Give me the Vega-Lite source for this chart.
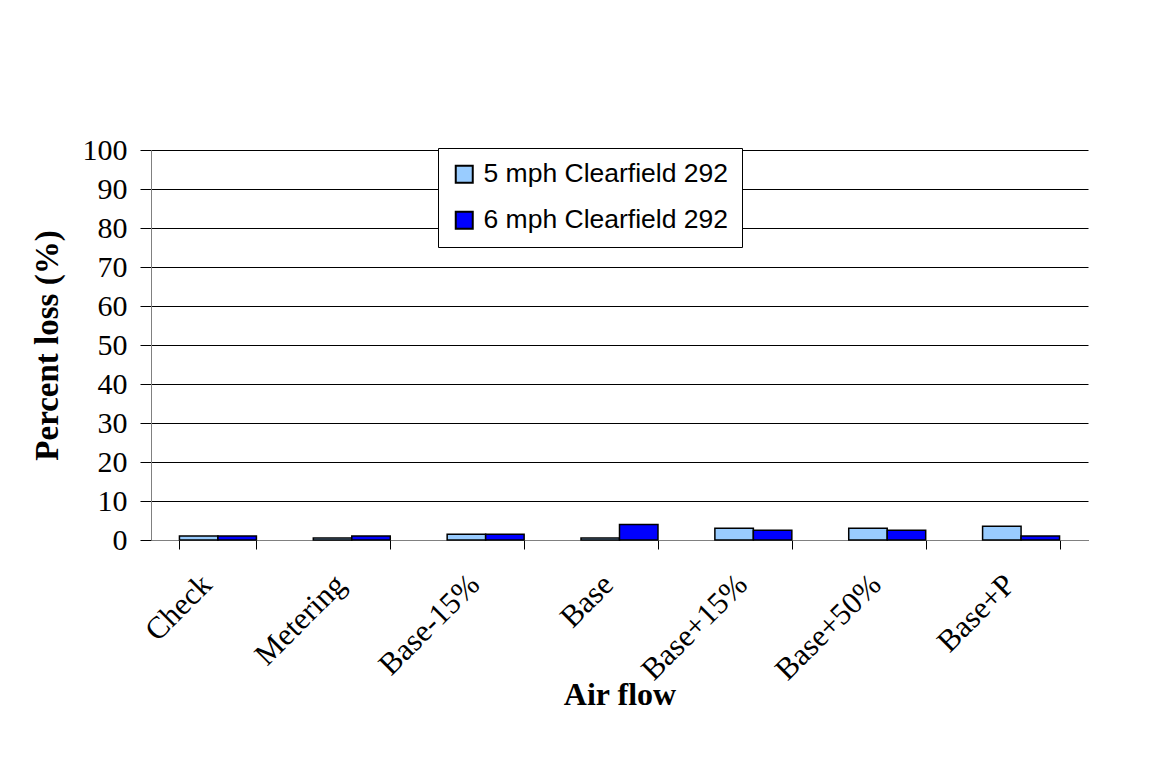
{
  "$schema": "https://vega.github.io/schema/vega-lite/v6.json",
  "width": 937,
  "height": 390,
  "padding": {"left": 31, "top": 135, "right": 5, "bottom": 5},
  "autosize": {"type": "pad"},
  "background": "white",
  "config": {"view": {"stroke": null}},
  "data": {
    "values": [
      {"flow": "Check", "series": "5 mph Clearfield 292", "loss": 1.0},
      {"flow": "Check", "series": "6 mph Clearfield 292", "loss": 1.0},
      {"flow": "Metering", "series": "5 mph Clearfield 292", "loss": 0.5},
      {"flow": "Metering", "series": "6 mph Clearfield 292", "loss": 1.0},
      {"flow": "Base-15%", "series": "5 mph Clearfield 292", "loss": 1.5},
      {"flow": "Base-15%", "series": "6 mph Clearfield 292", "loss": 1.5},
      {"flow": "Base", "series": "5 mph Clearfield 292", "loss": 0.5},
      {"flow": "Base", "series": "6 mph Clearfield 292", "loss": 4.0},
      {"flow": "Base+15%", "series": "5 mph Clearfield 292", "loss": 3.0},
      {"flow": "Base+15%", "series": "6 mph Clearfield 292", "loss": 2.5},
      {"flow": "Base+50%", "series": "5 mph Clearfield 292", "loss": 3.0},
      {"flow": "Base+50%", "series": "6 mph Clearfield 292", "loss": 2.5},
      {"flow": "Base+P", "series": "5 mph Clearfield 292", "loss": 3.5},
      {"flow": "Base+P", "series": "6 mph Clearfield 292", "loss": 1.0}
    ]
  },
  "mark": {"type": "bar", "stroke": "black", "strokeWidth": 1.5},
  "encoding": {
    "x": {
      "field": "flow",
      "type": "nominal",
      "sort": ["Check", "Metering", "Base-15%", "Base", "Base+15%", "Base+50%", "Base+P"],
      "scale": {"paddingInner": 0.425, "paddingOuter": 0.2125},
      "axis": {
        "title": "Air flow",
        "titleFont": "Liberation Serif",
        "titleFontSize": 32,
        "titleFontWeight": "bold",
        "titleColor": "black",
        "titlePadding": -6,
        "labelFont": "Liberation Serif",
        "labelFontSize": 31,
        "labelColor": "black",
        "labelAngle": -45,
        "labelAlign": "right",
        "labelBaseline": "bottom",
        "labelPadding": 42,
        "tickBand": "extent",
        "tickSize": 9,
        "tickColor": "black",
        "domainColor": "#808080",
        "grid": false
      }
    },
    "xOffset": {"field": "series", "type": "nominal"},
    "y": {
      "field": "loss",
      "type": "quantitative",
      "scale": {"domain": [0, 100]},
      "axis": {
        "title": "Percent loss (%)",
        "titleFont": "Liberation Serif",
        "titleFontSize": 33,
        "titleFontWeight": "bold",
        "titleColor": "black",
        "titlePadding": 18,
        "labelFont": "Liberation Serif",
        "labelFontSize": 30,
        "labelColor": "black",
        "labelPadding": 13,
        "values": [0, 10, 20, 30, 40, 50, 60, 70, 80, 90, 100],
        "tickSize": 11,
        "tickColor": "black",
        "domainColor": "#808080",
        "grid": true,
        "gridColor": "black",
        "gridOpacity": 1,
        "gridWidth": 1
      }
    },
    "color": {
      "field": "series",
      "type": "nominal",
      "scale": {"range": ["#99CCFF", "#0000FF"]},
      "legend": {
        "title": null,
        "orient": "none",
        "legendX": 287,
        "legendY": -2,
        "symbolType": "square",
        "symbolSize": 289,
        "symbolStrokeColor": "black",
        "symbolStrokeWidth": 2,
        "labelFont": "Liberation Sans",
        "labelFontSize": 26.5,
        "labelColor": "black",
        "labelLimit": 0,
        "labelOffset": 6,
        "rowPadding": 19,
        "padding": 13,
        "strokeColor": "black",
        "fillColor": "white"
      }
    }
  }
}
